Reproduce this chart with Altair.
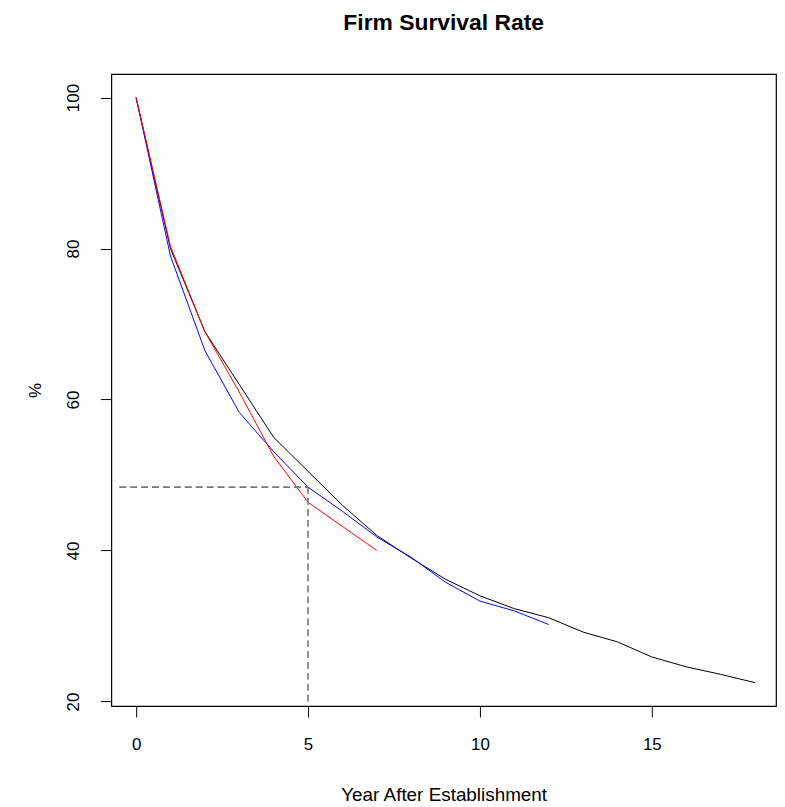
import altair as alt
import pandas as pd

# Survival rate (%) by year after establishment, three series
years_black = list(range(0, 19))
vals_black = [100, 80, 69, 62, 55, 50.5, 46, 42, 39, 36.2, 34, 32.3, 31.1, 29.2, 27.9, 25.9, 24.6, 23.6, 22.5]

years_blue = list(range(0, 13))
vals_blue = [100, 79, 66.5, 58.3, 53.1, 48.4, 45.2, 41.8, 39.1, 35.8, 33.3, 32.0, 30.2]

years_red = list(range(0, 8))
vals_red = [100, 80.3, 69, 61, 52.5, 46.4, 43.2, 40]

# Reference dashed guide: value at year 5
guide_year = [5]
guide_value = [48.4]
guide_start = [-0.49]
guide_floor = [19.0]

x_ticks = [0, 5, 10, 15]
y_ticks = [20, 40, 60, 80, 100]

FONT = "Liberation Sans"

df_black = pd.DataFrame({"year": years_black, "rate": vals_black})
df_blue = pd.DataFrame({"year": years_blue, "rate": vals_blue})
df_red = pd.DataFrame({"year": years_red, "rate": vals_red})
df_h = pd.DataFrame({"x": guide_start, "x2": guide_year, "y": guide_value})
df_v = pd.DataFrame({"x": guide_year, "y": guide_value, "y2": guide_floor})

xscale = alt.Scale(domain=[-0.72, 18.61], nice=False, zero=False)
yscale = alt.Scale(domain=[19.4, 103.1], nice=False, zero=False)

xaxis = alt.Axis(values=x_ticks, title="Year After Establishment", grid=False, domain=False,
                 tickSize=11, tickColor="black", labelPadding=20, labelFontSize=17,
                 titleFontSize=19, titleFontWeight="normal", titlePadding=33,
                 labelFont=FONT, titleFont=FONT, labelColor="black", titleColor="black")
yaxis = alt.Axis(values=y_ticks, title="%", grid=False, domain=False,
                 tickSize=11, tickColor="black", labelAngle=270, labelAlign="center",
                 labelBaseline="bottom", labelPadding=18, labelFontSize=17,
                 titleFontSize=17, titleFontWeight="normal", titlePadding=20, titleAngle=270,
                 labelFont=FONT, titleFont=FONT, labelColor="black", titleColor="black")


def line(df, color):
    return alt.Chart(df).mark_line(color=color, strokeWidth=1, clip=True).encode(
        x=alt.X("year:Q", scale=xscale, axis=xaxis),
        y=alt.Y("rate:Q", scale=yscale, axis=yaxis),
    )


hline = alt.Chart(df_h).mark_rule(color="#777777", strokeWidth=1.6, strokeDash=[7, 4], clip=True).encode(
    x=alt.X("x:Q", scale=xscale), x2="x2:Q", y=alt.Y("y:Q", scale=yscale)
)
vline = alt.Chart(df_v).mark_rule(color="#777777", strokeWidth=1.6, strokeDash=[7, 4], clip=True).encode(
    x=alt.X("x:Q", scale=xscale), y=alt.Y("y:Q", scale=yscale), y2="y2:Q"
)

chart = alt.layer(
    line(df_black, "black"),
    line(df_blue, "#0000ff"),
    line(df_red, "#ff0000"),
    hline,
    vline,
).properties(
    width=669,
    height=636,
    autosize=alt.AutoSizeParams(type="none"),
    padding={"left": 104, "top": 64, "right": 1, "bottom": 98},
    title=alt.Title("Firm Survival Rate", font=FONT, fontSize=23, fontWeight="bold",
                    color="black", anchor="middle", offset=39),
).configure(background="white").configure_view(stroke="black", strokeWidth=1.2)

chart.save("out.html", embed_options={"renderer": "svg", "actions": False})
